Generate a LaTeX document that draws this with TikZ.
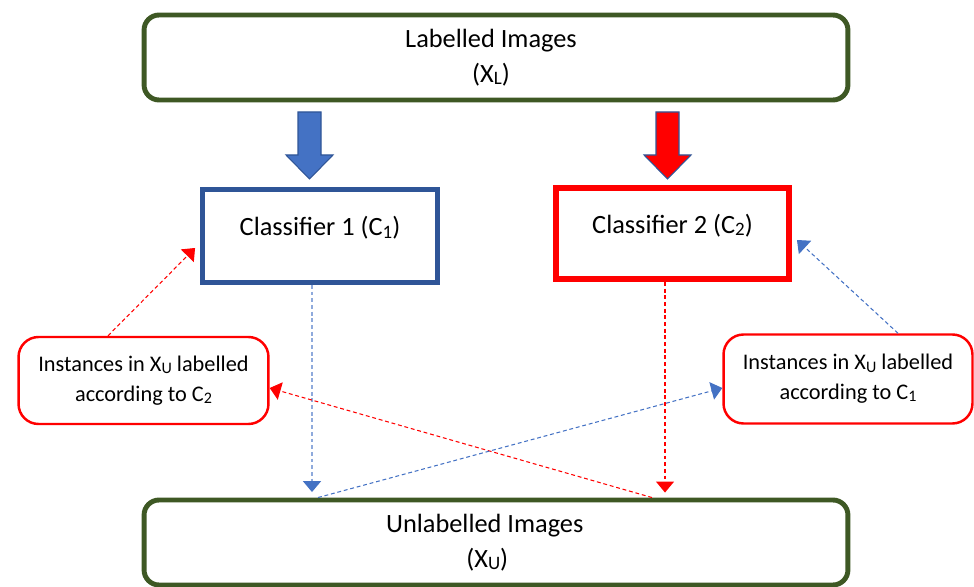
\documentclass[tikz,border=0pt]{standalone}
\usepackage{fontspec}
\setmainfont{Carlito}
\usetikzlibrary{arrows.meta}

\definecolor{boxgreen}{RGB}{62,88,36}
\definecolor{clfblue}{RGB}{47,85,151}
\definecolor{arrowblue}{RGB}{68,114,196}
\definecolor{lightblue}{RGB}{143,170,220}

\newcommand{\lowidx}[1]{\raisebox{-0.2ex}{\fontsize{0.72em}{1em}\selectfont #1}}

\tikzset{
  imgbox/.style={draw=boxgreen, line width=2.8pt, rounded corners=0.3cm,
    minimum width=14.08cm, minimum height=1.7cm, align=center,
    font=\fontsize{15}{20}\selectfont},
  clfbox/.style={line width=2.8pt, minimum height=1.86cm, text depth=0.4cm,
    font=\fontsize{15}{18}\selectfont},
  instbox/.style={draw=red, line width=1.4pt, rounded corners=0.4cm,
    minimum width=5cm, minimum height=1.74cm, align=center,
    font=\fontsize{12.7}{17}\selectfont},
  dashflow/.style={line width=0.6pt, dash pattern=on 2.2pt off 1.6pt,
    -{Triangle[width=0.36cm, length=0.22cm]}}
}

\begin{document}
\begin{tikzpicture}[x=0.02cm, y=-0.02cm]

\useasboundingbox (0, 0) rectangle (974, 587);

\draw (496, 57.5) node[imgbox] (xl) {Labelled Images\hspace*{0.2cm}\\(X\lowidx{L})\hspace*{0.2cm}};

\draw (496, 542.5) node[imgbox] (xu) {Unlabelled Images\hspace*{0.45cm}\\(X\lowidx{U})\hspace*{0.35cm}};

\draw (320, 236) node[clfbox, draw=clfblue, minimum width=4.7cm] (c1) {Classifier 1 (C\lowidx{1})};

\draw (672.5, 233.5) node[clfbox, draw=red, line width=3.4pt, minimum width=4.66cm, minimum height=1.82cm] (c2) {Classifier 2 (C\lowidx{2})};

\draw (143.5, 380.5) node[instbox] (il) {Instances in X\lowidx{U} labelled\\according to C\lowidx{2}};

\draw (848, 379) node[instbox, minimum width=4.98cm, minimum height=1.78cm] (ir) {Instances in X\lowidx{U} labelled\\according to C\lowidx{1}};

% block arrows into the classifiers
\draw[fill=arrowblue, draw=clfblue, line width=0.6pt] (298, 112) -- (321, 112) -- (321, 155) -- (333, 155) -- (309.5, 179) -- (286, 155) -- (298, 155) -- cycle;

\draw[fill=red, draw=clfblue, line width=0.6pt] (656, 112) -- (679, 112) -- (679, 155) -- (691, 155) -- (667.5, 179) -- (644, 155) -- (656, 155) -- cycle;

% dashed flows
\draw[dashflow, draw=lightblue, line width=1.1pt, -{Triangle[width=0.36cm, length=0.22cm, color=arrowblue]}, shorten >=0.11cm] ([xshift=-0.16cm]c1.south) -- ([xshift=-0.16cm]c1.south |- xu.north);

\draw[dashflow, draw=red, shorten >=0.1cm] ([xshift=-0.15cm]c2.south) -- ([xshift=-0.15cm]c2.south |- xu.north);

\draw[dashflow, draw=red] ([xshift=3.12cm]xu.north) -- ([yshift=-0.15cm]il.east);

\draw[dashflow, draw=arrowblue] ([xshift=-3.56cm]xu.north) -- ([yshift=-0.18cm]ir.west);

\draw[dashflow, draw=red] ([xshift=-0.71cm]il.north) -- ([xshift=-0.1cm, yshift=-0.24cm]c1.west);

\draw[dashflow, draw=arrowblue] ([xshift=1cm]ir.north) -- ([xshift=0.1cm, yshift=-0.13cm]c2.east);

\end{tikzpicture}
\end{document}
